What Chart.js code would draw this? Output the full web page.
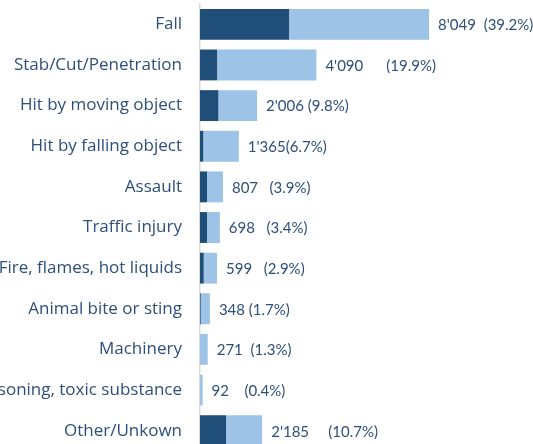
<!DOCTYPE html>
<html>
<head>
<meta charset="utf-8">
<script src="https://cdn.jsdelivr.net/npm/chart.js@4"></script>
<style>
  html, body { margin: 0; padding: 0; background: #fff; overflow: hidden; }
  #wrap { position: relative; width: 533px; height: 451px; }
</style>
</head>
<body>
<div id="wrap"><canvas id="myChart"></canvas></div>
<script>
const categories = ["Fall", "Stab/Cut/Penetration", "Hit by moving object", "Hit by falling object",
  "Assault", "Traffic injury", "Fire, flames, hot liquids", "Animal bite or sting",
  "Machinery", "Poisoning, toxic substance", "Other/Unkown"];
const totals = [8049, 4090, 2006, 1365, 807, 698, 599, 348, 271, 92, 2185];
const darkPart = [3130, 600, 645, 115, 245, 245, 130, 25, 0, 0, 915];
const lightPart = totals.map((t, i) => t - darkPart[i]);
const pctLabels = ["(39.2%)", "(19.9%)", "(9.8%)", "(6.7%)", "(3.9%)", "(3.4%)",
  "(2.9%)", "(1.7%)", "(1.3%)", "(0.4%)", "(10.7%)"];
const gapSpaces = [2, 6, 1, 0, 3, 3, 3, 1, 2, 4, 5];

const textColor = "#2c4f7c";
const labelFont = "'Open Sans', sans-serif";
const valueFont = "Lato, sans-serif";

function fmt(n) {
  return n.toString().replace(/\B(?=(\d{3})+(?!\d))/g, "'");
}

const valueLabels = {
  id: "valueLabels",
  afterDatasetsDraw(chart) {
    const ctx = chart.ctx;
    const meta = chart.getDatasetMeta(1);
    ctx.save();
    ctx.font = "15px " + valueFont;
    ctx.fillStyle = textColor;
    ctx.textBaseline = "middle";
    ctx.textAlign = "left";
    meta.data.forEach((bar, i) => {
      const txt = fmt(totals[i]) + " ".repeat(gapSpaces[i]) + pctLabels[i];
      ctx.fillText(txt, bar.x + 9, bar.y + 1);
    });
    ctx.restore();
  }
};

const ctx = document.getElementById("myChart").getContext("2d");
new Chart(ctx, {
  type: "bar",
  data: {
    labels: categories,
    datasets: [{
      label: "A",
      data: darkPart,
      backgroundColor: "#1f4e79",
      categoryPercentage: 1,
      barPercentage: 0.76
    }, {
      label: "B",
      data: lightPart,
      backgroundColor: "#9dc3e6",
      categoryPercentage: 1,
      barPercentage: 0.76
    }]
  },
  options: {
    indexAxis: "y",
    responsive: true,
    maintainAspectRatio: false,
    animation: false,
    layout: { padding: { top: 4, right: 0, bottom: 0, left: 0 } },
    plugins: {
      legend: { display: false },
      tooltip: { enabled: false }
    },
    scales: {
      x: {
        stacked: true,
        display: false,
        min: 0,
        max: 11700
      },
      y: {
        stacked: true,
        afterFit(scale) {
          scale.width = 200;
          scale.paddingTop = 0;
          scale.paddingBottom = 0;
        },
        grid: { display: false, drawTicks: false },
        border: { color: "#d9d9d9", width: 1.5 },
        ticks: {
          padding: 18,
          color: textColor,
          font: { family: labelFont, size: 17 }
        }
      }
    }
  },
  plugins: [valueLabels]
});
</script>
</body>
</html>
